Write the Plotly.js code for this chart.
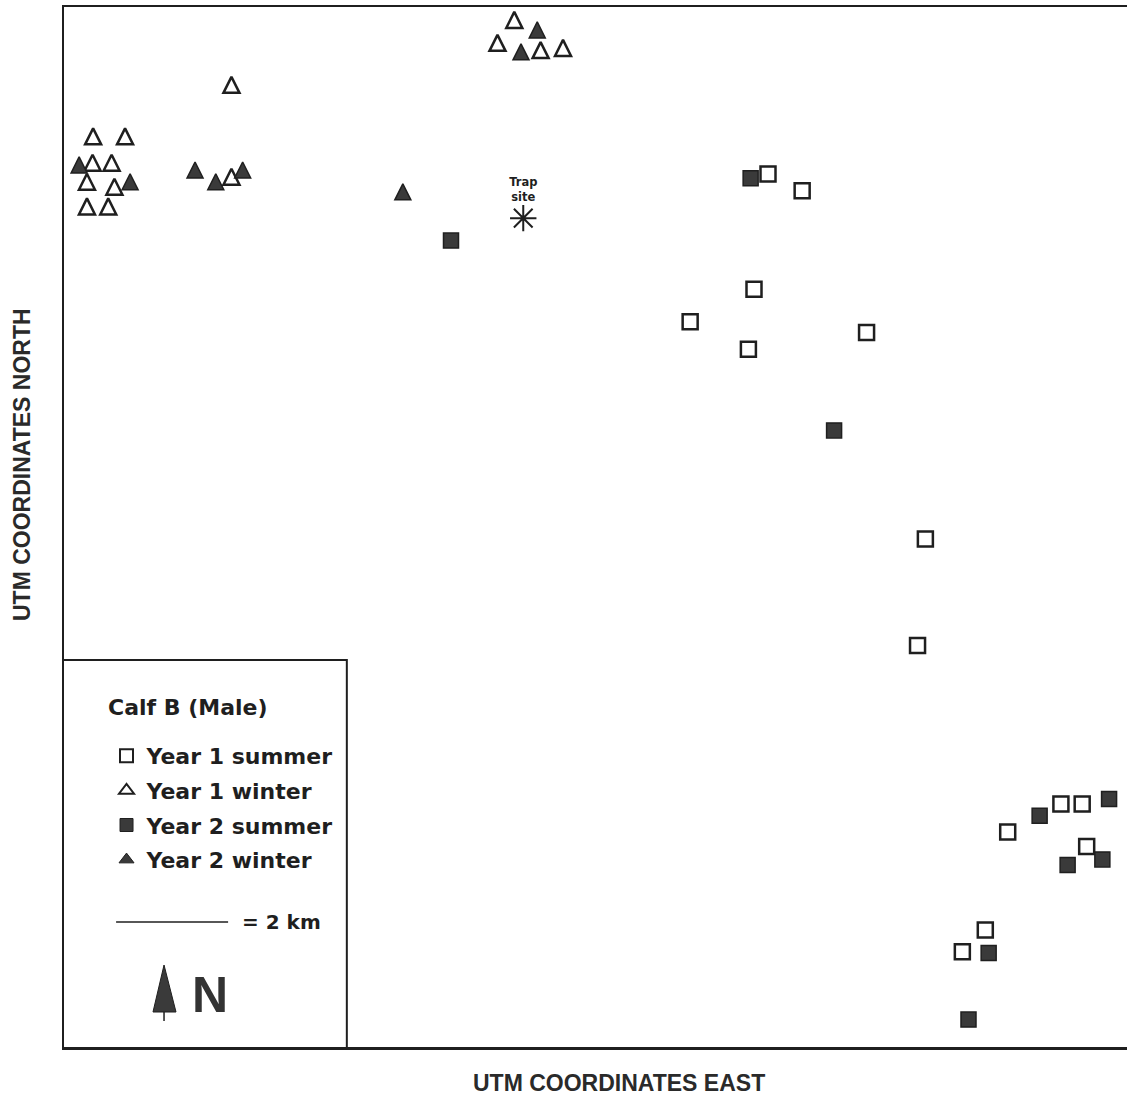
<!DOCTYPE html>
<html>
<head>
<meta charset="utf-8">
<script src="https://cdn.plot.ly/plotly-3.0.1.min.js"></script>
<style>html,body{margin:0;padding:0;background:#fff;}</style>
</head>
<body>
<div id="chart" style="width:1127px;height:1098px;"></div>
<script>
// Locations in km (east / north) relative to the lower-left corner of the map frame
const year1SummerEast  = [12.57, 13.18, 12.32, 11.18, 12.22, 14.33, 15.38, 15.24, 16.85, 17.80, 18.18, 18.26, 16.45, 16.04];
const year1SummerNorth = [15.59, 15.29, 13.53, 12.95, 12.46, 12.76,  9.07,  7.17,  3.84,  4.34,  4.34,  3.58,  2.09,  1.70];

const year1WinterEast  = [2.99, 0.52, 1.09, 0.51, 0.85, 0.41, 0.90, 0.41, 0.79, 2.99, 8.04, 7.74, 8.51, 8.91];
const year1WinterNorth = [17.18, 16.26, 16.26, 15.79, 15.79, 15.45, 15.36, 15.01, 15.01, 15.54, 18.34, 17.93, 17.80, 17.84];

const year2SummerEast  = [6.91, 12.26, 13.75, 17.42, 18.66, 17.92, 18.54, 16.51, 16.15];
const year2SummerNorth = [14.40, 15.51, 11.01, 4.13, 4.43, 3.25, 3.35, 1.68, 0.49];

const year2WinterEast  = [0.27, 1.18, 2.34, 2.71, 3.19, 8.45, 8.16, 6.05];
const year2WinterNorth = [15.75, 15.45, 15.66, 15.45, 15.66, 18.16, 17.77, 15.27];

const trapEast = [8.20];
const trapNorth = [14.80];

const seriesNames = ['Year 1 summer', 'Year 1 winter', 'Year 2 summer', 'Year 2 winter'];
const legendTitle = 'Calf B (Male)';
const scaleKm = 2;

const ink = '#1f1f1f';
const fillInk = '#3a3a3a';
const legendFont = {family: 'DejaVu Sans', size: 22, color: ink, weight: 'bold'};

const triSize = 16;
// map marker styles
const mapMarkers = [
  {symbol: 'square-open', size: 15, color: ink, line: {width: 2.5, color: ink}},
  {symbol: 'arrow-down-open', angle: 180, standoff: triSize / 2, size: triSize, color: ink, line: {width: 2.5, color: ink}},
  {symbol: 'square', size: 15, color: fillInk, line: {width: 1.5, color: ink}},
  {symbol: 'arrow-down', angle: 180, standoff: triSize / 2, size: triSize, color: fillInk, line: {width: 1.5, color: ink}}
];
// smaller symbols used in the key
const keyMarkers = [
  {symbol: 'square-open', size: 13, color: ink, line: {width: 2, color: ink}},
  {symbol: 'triangle-up-open', size: 13, color: ink, line: {width: 2, color: ink}},
  {symbol: 'square', size: 13, color: fillInk, line: {width: 1, color: ink}},
  {symbol: 'triangle-up', size: 13, color: fillInk, line: {width: 1, color: ink}}
];

const seriesX = [year1SummerEast, year1WinterEast, year2SummerEast, year2WinterEast];
const seriesY = [year1SummerNorth, year1WinterNorth, year2SummerNorth, year2WinterNorth];

const traces = [];
seriesNames.forEach((name, i) => {
  traces.push({
    type: 'scatter', mode: 'markers', name: name, showlegend: false, legendgroup: 'g' + i,
    x: seriesX[i], y: seriesY[i], marker: mapMarkers[i]
  });
});
seriesNames.forEach((name, i) => {
  traces.push({
    type: 'scatter', mode: 'markers', name: name, showlegend: true, legendgroup: 'g' + i,
    x: [null], y: [null], marker: keyMarkers[i], hoverinfo: 'skip'
  });
});
traces.push({
  type: 'scatter', mode: 'markers+text', name: 'Trap site', showlegend: false,
  x: trapEast, y: trapNorth,
  text: ['Trap<br>site'], textposition: 'top center',
  textfont: {family: 'DejaVu Sans', size: 11.5, color: ink, weight: 'bold'},
  marker: {symbol: 'asterisk-open', size: 22, color: ink, line: {width: 2, color: ink}}
});

const layout = {
  width: 1127, height: 1098,
  margin: {l: 64, r: 0, t: 7, b: 51, pad: 0},
  paper_bgcolor: '#ffffff', plot_bgcolor: '#ffffff',
  showlegend: true,
  xaxis: {range: [0, 18.98], showgrid: false, zeroline: false, showticklabels: false, ticks: '',
          showline: true, linecolor: ink, linewidth: 2.5, mirror: true, fixedrange: true},
  yaxis: {range: [0, 18.57], showgrid: false, zeroline: false, showticklabels: false, ticks: '',
          showline: true, linecolor: ink, linewidth: 2.5, mirror: false, fixedrange: true},
  legend: {
    x: 0.040, xanchor: 'left', y: 0.300, yanchor: 'top',
    bgcolor: 'rgba(0,0,0,0)', borderwidth: 0,
    font: legendFont, tracegroupgap: 3, itemsizing: 'trace'
  },
  shapes: [
    // key box
    {type: 'path', xref: 'x', yref: 'y', path: 'M 0,6.91 L 5.05,6.91 L 5.05,0',
     line: {color: ink, width: 2}},
    // scale bar (2 km)
    {type: 'line', xref: 'x', yref: 'y', x0: 0.93, x1: 0.93 + scaleKm, y0: 2.23, y1: 2.23,
     line: {color: ink, width: 1.5}},
    // north tree
    {type: 'path', xref: 'x', yref: 'y', path: 'M 1.786,1.464 L 2.0,0.625 L 1.589,0.625 Z',
     fillcolor: fillInk, line: {color: ink, width: 1}},
    {type: 'line', xref: 'x', yref: 'y', x0: 1.786, x1: 1.786, y0: 0.625, y1: 0.464,
     line: {color: ink, width: 1.5}}
  ],
  annotations: [
    {xref: 'x', yref: 'y', x: 0.75, y: 6.07, xanchor: 'left', yanchor: 'middle', showarrow: false,
     text: legendTitle, font: legendFont},
    {xref: 'x', yref: 'y', x: 3.14, y: 2.23, xanchor: 'left', yanchor: 'middle', showarrow: false,
     text: '= ' + scaleKm + ' km', font: {family: 'DejaVu Sans', size: 20, color: ink, weight: 'bold'}},
    {xref: 'x', yref: 'y', x: 2.61, y: 0.93, xanchor: 'center', yanchor: 'middle', showarrow: false,
     text: 'N', font: {family: 'Liberation Sans', size: 50, color: '#333', weight: 'bold'}},
    {xref: 'paper', yref: 'paper', x: 0.522, y: -0.0346, xanchor: 'center', yanchor: 'middle',
     showarrow: false, text: 'UTM COORDINATES EAST',
     font: {family: 'Liberation Sans', size: 23, color: '#2a2a2a', weight: 'bold'}},
    {xref: 'paper', yref: 'paper', x: -0.0395, y: 0.5596, xanchor: 'center', yanchor: 'middle',
     showarrow: false, textangle: -90, text: 'UTM COORDINATES NORTH',
     font: {family: 'Liberation Sans', size: 23, color: '#2a2a2a', weight: 'bold'}}
  ]
};

Plotly.newPlot('chart', traces, layout, {displayModeBar: false, staticPlot: true});
</script>
</body>
</html>
